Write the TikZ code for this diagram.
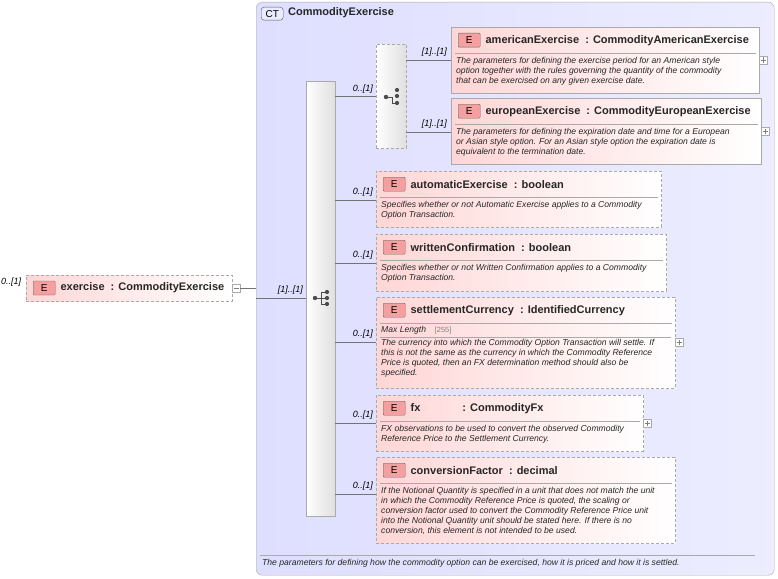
\documentclass[tikz,border=0pt]{standalone}
\usepackage{fontspec}
\setmainfont{Liberation Sans}
\definecolor{ctbg}{RGB}{222,222,255}
\definecolor{elbg}{RGB}{255,214,214}
\definecolor{bord}{RGB}{170,170,170}
\definecolor{ebadge}{RGB}{245,160,160}
\tikzset{
  box/.style={draw=bord,line width=0.8pt,left color=elbg,right color=white,inner sep=0},
  dbox/.style={box,dash pattern=on 3pt off 2pt},
  conn/.style={draw=gray!90!black,line width=0.6pt},
  card/.style={font=\fontsize{9}{10}\selectfont\itshape,inner sep=0,anchor=south east},
  desc/.style={font=\fontsize{8.6}{10}\selectfont\itshape,inner sep=0,anchor=north west,align=left,text=black!85},
  ttl/.style={font=\fontsize{11}{12}\selectfont\bfseries,inner sep=0,anchor=west,text=black!85},
  badge/.style={draw=gray!80!black,fill=ebadge,rounded corners=1pt,minimum width=22pt,minimum height=14pt,inner sep=0,font=\fontsize{10}{10}\selectfont},
  plus/.style={draw=bord,fill=white,minimum size=8pt,inner sep=0},
  dot/.style={fill=black!70},
}
\newcommand{\elem}[9]{% name x y w h title desc style descoffset
  \node[#8,minimum width=#4pt,minimum height=#5pt,anchor=north west] (#1) at (#2,#3) {};
  \node[badge,anchor=north west] (#1b) at ([shift={(7pt,-6pt)}]#1.north west) {E};
  \node[ttl] (#1t) at ([xshift=5pt]#1b.east) {#6};
  \draw[bord,line width=0.6pt] ([shift={(4pt,-26pt)}]#1.north west) -- ([shift={(-4pt,-26pt)}]#1.north east);
  \node[desc] (#1d) at ([shift={(5pt,-#9pt)}]#1.north west) {#7};
}
\begin{document}
\begin{tikzpicture}[x=1pt,y=-1pt]
\useasboundingbox (0,0) rectangle (778,578);
% CT container
\node[draw=bord,rounded corners=6pt,left color=ctbg,right color=ctbg!55,minimum width=518pt,minimum height=573pt,anchor=north west,inner sep=0] (ct) at (256,2) {};
\node[draw=gray!70!black,fill=ctbg!70!blue!20,rounded corners=3pt,minimum width=22pt,minimum height=13pt,inner sep=0,font=\fontsize{10}{10}\selectfont,anchor=north west] (ctb) at (261,7) {CT};
\node[ttl] (ctt) at (288,13) {CommodityExercise};
\coordinate (bl1) at (260,555); \coordinate (bl2) at (755,555);
\draw[bord] (bl1) -- (bl2);
\node[desc,anchor=west] (ctd) at (262,563) {The parameters for defining how the commodity option can be exercised, how it is priced and how it is settled.};
% exercise
\node[dbox,minimum width=206pt,minimum height=26pt,anchor=north west] (ex) at (26,275) {};
\node[badge,anchor=west] (exb) at (33,288) {E};
\node[ttl] (ext) at ([xshift=5pt]exb.east) {exercise\ \ : CommodityExercise};
\node[card,anchor=west] (exc) at (1,282) {0..[1]};
\node[plus] (exm) at (236,288) {};
\draw[gray] ([xshift=-2.5pt]exm.center) -- ([xshift=2.5pt]exm.center);
\coordinate (j1) at (256,288); \coordinate (j2) at (256,298);
% sequence
\node[draw=bord,left color=white,right color=gray!25,minimum width=29pt,minimum height=435pt,anchor=north west,inner sep=0] (seq) at (306,81) {};
\draw[conn] (exm.east) -- (j1);
\draw[conn] (j2) -- (seq.west|-j2);
\node[card] at (303,295) {[1]..[1]};
\draw[black!70,line width=0.9pt] (315,298) -- (321,298) (321,292) -- (321,304) (321,292) -- (327,292) (321,298) -- (327,298) (321,304) -- (327,304);
\fill[dot] (315,298) circle (2.2) (327,292) circle (2.1) (327,298) circle (2.1) (327,304) circle (2.1);
% choice
\node[draw=bord,dash pattern=on 3pt off 2pt,left color=white,right color=gray!25,minimum width=30pt,minimum height=104pt,anchor=north west,inner sep=0] (ch) at (376,44) {};
\draw[black!70,line width=0.9pt] (386,97) -- (392,97) -- (392,103) -- (397,103);
\fill[dot] (386,97) circle (2.2) (397,90) circle (2.1) (397,96) circle (2.1) (397,103) circle (2.1);
\draw[conn] (seq.east|-ch.west) -- (ch.west);
\node[card] at (373,94) {0..[1]};
% elements
\elem{am}{451}{27}{308}{66}{americanExercise\ \ : CommodityAmericanExercise}{The parameters for defining the exercise period for an American style\\option together with the rules governing the quantity of the commodity\\that can be exercised on any given exercise date.}{box}{30}
\elem{eu}{451}{98}{310}{66}{europeanExercise\ \ : CommodityEuropeanExercise}{The parameters for defining the expiration date and time for a European\\or Asian style option. For an Asian style option the expiration date is\\equivalent to the termination date.}{box}{30}
\elem{au}{376}{171}{285}{56}{automaticExercise\ \ : boolean}{Specifies whether or not Automatic Exercise applies to a Commodity\\Option Transaction.}{dbox}{30}
\elem{wr}{376}{234}{290}{57}{writtenConfirmation\ \ : boolean}{Specifies whether or not Written Confirmation applies to a Commodity\\Option Transaction.}{dbox}{30}
\elem{se}{376}{297}{299}{91}{settlementCurrency\ \ : IdentifiedCurrency}{The currency into which the Commodity Option Transaction will settle. If\\this is not the same as the currency in which the Commodity Reference\\Price is quoted, then an FX determination method should also be\\specified.}{dbox}{42}
\node[desc,anchor=west] (sem) at (381,330) {Max Length\quad\textcolor{gray}{\upshape\fontsize{7.5}{8}\selectfont[255]}};
\draw[bord,line width=0.5pt] (380,337) -- (671,337);
\elem{fx}{376}{395}{267}{56}{fx\hspace{42pt}: CommodityFx}{FX observations to be used to convert the observed Commodity\\Reference Price to the Settlement Currency.}{dbox}{30}
\elem{cf}{376}{457}{299}{86}{conversionFactor\ \ : decimal}{If the Notional Quantity is specified in a unit that does not match the unit\\in which the Commodity Reference Price is quoted, the scaling or\\conversion factor used to convert the Commodity Reference Price unit\\into the Notional Quantity unit should be stated here. If there is no\\conversion, this element is not intended to be used.}{dbox}{30}
% plus boxes
\foreach \n/\px/\py in {pa/763/60,pe/765/131,ps/679/342,pf/647/423}{
  \node[plus] (\n) at (\px,\py) {};
  \draw[gray] ([xshift=-2.5pt]\n.center) -- ([xshift=2.5pt]\n.center) ([yshift=-2.5pt]\n.center) -- ([yshift=2.5pt]\n.center);
}
% connectors
\coordinate (ca) at (451,60); \coordinate (ce) at (451,132);
\draw[conn] (ch.east|-ca) -- (ca); \node[card] at (447,57) {[1]..[1]};
\draw[conn] (ch.east|-ce) -- (ce); \node[card] at (447,129) {[1]..[1]};
\foreach \n/\yy in {au/200,wr/263,se/342,fx/423,cf/494}{
  \coordinate (c\n) at (376,\yy);
  \draw[conn] (seq.east|-c\n) -- (c\n);
  \node[card] at (373,\yy-3) {0..[1]};
}
\end{tikzpicture}
\end{document}
